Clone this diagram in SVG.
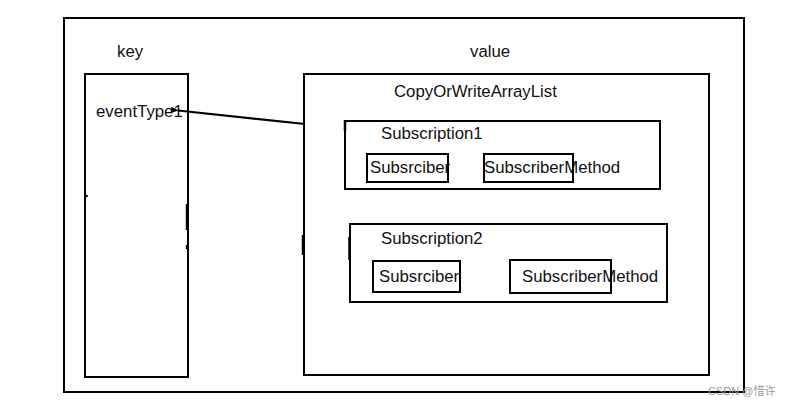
<svg xmlns="http://www.w3.org/2000/svg" width="791" height="406" viewBox="0 0 791 406">
<style>
.box{fill:none;stroke:#000;stroke-width:2}
.t{font-family:"Liberation Sans",Arial,sans-serif;font-size:16.8px;fill:#111}
.mark{stroke:#000;stroke-width:2.5}
.wm{font-family:"Liberation Sans","Noto Sans CJK SC",sans-serif;font-size:11px;fill:#9a9a9a}
</style>
<defs>
<marker id="arr" markerWidth="8" markerHeight="6" refX="1" refY="3" orient="auto" markerUnits="userSpaceOnUse">
<path d="M8,0 L0,3 L8,6 Z" fill="#000"/>
</marker>
</defs>
<rect width="791" height="406" fill="#fff"/>
<g id="outer"><rect class="box" x="64" y="18" width="680" height="374"/>
<text class="t" x="117" y="57">key</text>
<text class="t" x="470" y="57">value</text></g>
<g id="key"><rect class="box" x="85" y="74" width="103" height="303"/>
<text class="t" x="96" y="117">eventType1</text></g>
<g id="value"><rect class="box" x="304" y="74" width="405" height="301"/>
<text class="t" x="394" y="97">CopyOrWriteArrayList</text></g>
<g id="subscription1"><rect class="box" x="345" y="121" width="315" height="68"/>
<text class="t" x="381" y="139">Subscription1</text></g>
<g id="subscriber1"><rect class="box" x="367" y="154" width="81" height="28"/>
<text class="t" x="370" y="173">Subsrciber</text></g>
<g id="method1"><rect class="box" x="484" y="154" width="89" height="28"/>
<text class="t" x="484" y="173">SubscriberMethod</text></g>
<g id="subscription2"><rect class="box" x="350" y="224" width="317" height="78"/>
<text class="t" x="381" y="244">Subscription2</text></g>
<g id="subscriber2"><rect class="box" x="373" y="261" width="87" height="31"/>
<text class="t" x="379" y="282">Subsrciber</text></g>
<g id="method2"><rect class="box" x="510" y="260" width="101" height="33"/>
<text class="t" x="522" y="282">SubscriberMethod</text></g>
<g id="connectors">
<line x1="305" y1="124" x2="178" y2="110.5" stroke="#000" stroke-width="2.2" marker-end="url(#arr)"/>
<line x1="345" y1="120" x2="345" y2="131" class="mark"/>
<line x1="187" y1="204" x2="187" y2="230" class="mark"/>
<line x1="187" y1="245" x2="187" y2="249" class="mark"/>
<line x1="303" y1="235" x2="303" y2="255" class="mark"/>
<line x1="349.5" y1="237" x2="349.5" y2="260" class="mark"/>
<line x1="86" y1="195" x2="87" y2="197" class="mark"/>
</g>
<text class="wm" x="708" y="395">CSDN @惜许</text>
</svg>
